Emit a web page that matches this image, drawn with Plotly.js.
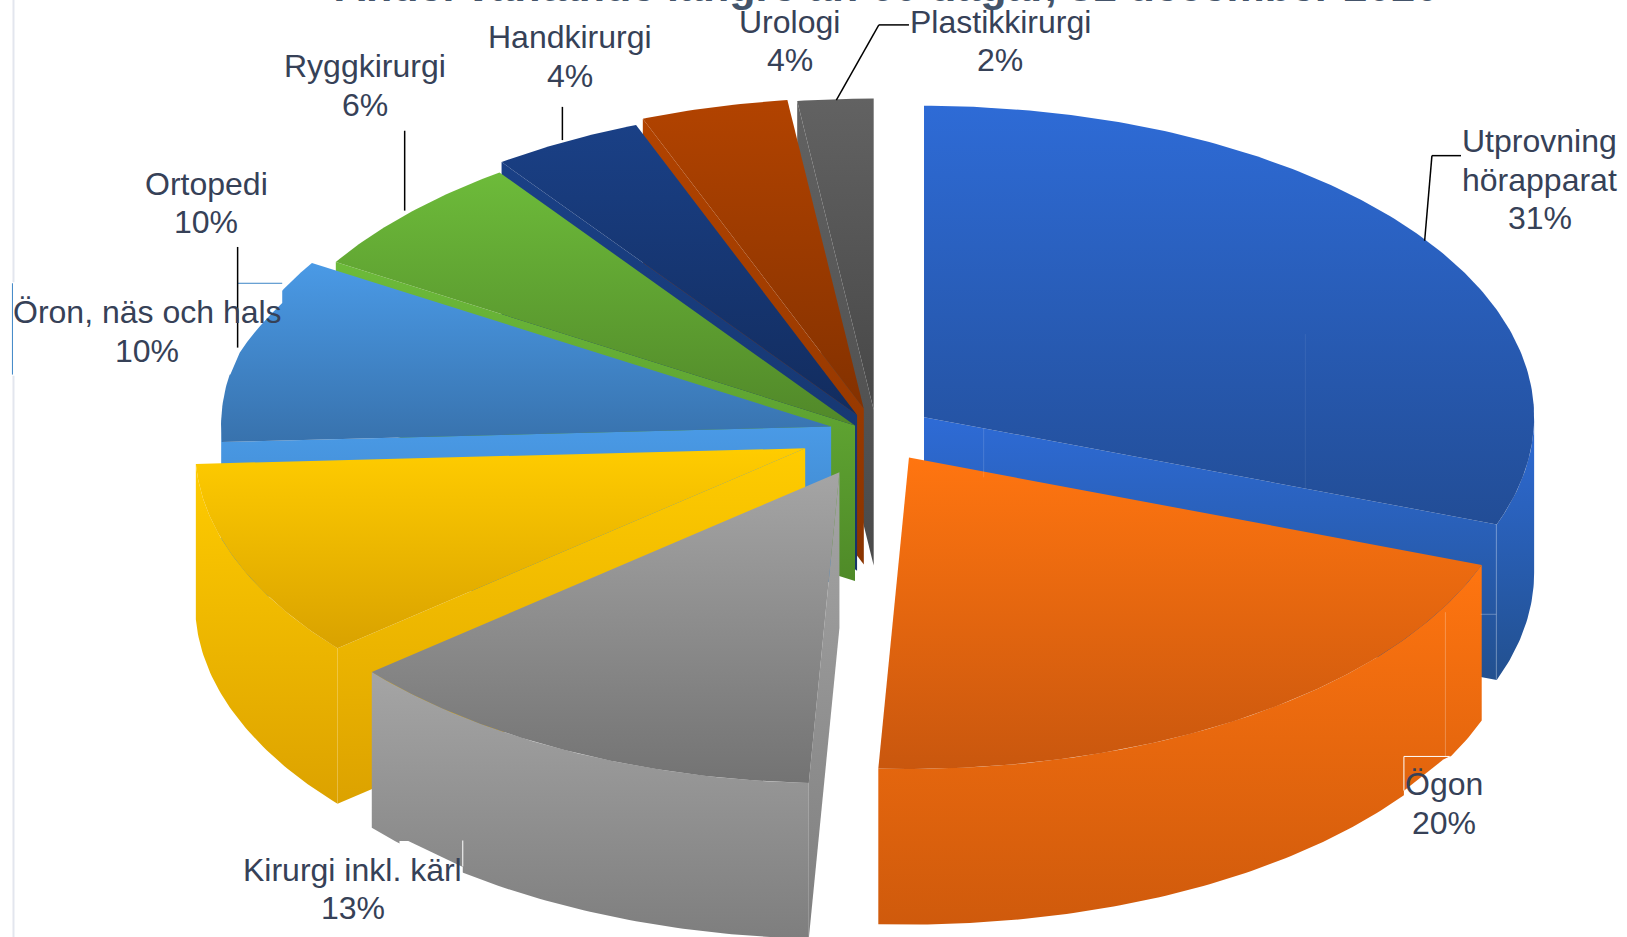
<!DOCTYPE html>
<html><head><meta charset="utf-8">
<script src="https://cdn.plot.ly/plotly-3.0.1.min.js"></script>
<style>html,body{margin:0;padding:0;background:#fff;overflow:hidden}#chart{width:1627px;height:937px}</style>
</head><body><div id="chart"></div>
<script>
// ---- data ----
const chartTitle = 'Andel väntande längre än 60 dagar, 31 december 2020';
const categories = ['Utprovning<br>hörapparat','Ögon','Kirurgi inkl. kärl','Öron, näs och hals','Ortopedi','Ryggkirurgi','Handkirurgi','Urologi','Plastikkirurgi'];
const shares = [30.6, 20.2, 13.1, 10.3, 9.6, 6.3, 4, 3.9, 2];

// ---- style: bright / dark end of each slice's gradient ----
const topBright = ['#2e6bd6','#ff7510','#a5a5a5','#ffcc00','#4a9ae6','#6dbb3a','#1a4086','#b24300','#626262'];
const topDark   = ['#224d96','#c9570e','#737373','#d9a200','#3872ad','#518829','#122c5e','#833100','#474747'];
const sideDark  = ['#22508f','#cf5a0c','#7e7e7e','#dca200','#3a7fc0','#4f8a28','#153468','#8a3400','#4a4a4a'];

// ---- 3D pie projection (units: 1568x903 reference frame) ----
const rx = 588, ry = 300, depth = 150;
const apexX = [890.5, 876, 809, 776, 801, 824, 826, 832.5, 842];
const apexY = [402, 441, 455, 432, 411, 410, 400, 394, 395];
const paintOrder = [8, 7, 6, 5, 4, 3, 0, 1, 2];
const labelX = [1484, 1392, 340, 142, 199, 352, 549, 761, 964];
const labelY = [136, 756, 838, 301, 177, 64, 36, 21, 21];
const lineStep = 37;

const total = shares.reduce((a, b) => a + b, 0);
const startDeg = [], endDeg = [];
shares.reduce((acc, v, i) => { startDeg[i] = acc / total * 360; endDeg[i] = (acc + v) / total * 360; return acc + v; }, 0);

function rim(i, deg) {
  const t = deg * Math.PI / 180;
  return [apexX[i] + rx * Math.sin(t), apexY[i] - ry * Math.cos(t)];
}
function arc(i, a, b) {
  const n = Math.max(2, Math.ceil(Math.abs(b - a) * 1.5)), pts = [];
  for (let k = 0; k <= n; k++) pts.push(rim(i, a + (b - a) * k / n));
  return pts;
}
function face(pts, bright, dark, name) {
  const xs = pts.map(p => p[0]), ys = pts.map(p => p[1]);
  xs.push(xs[0]); ys.push(ys[0]);
  return {
    type: 'scatter', mode: 'lines', x: xs, y: ys, name: name, fill: 'toself',
    line: { width: 0, color: bright }, hoverinfo: 'skip', showlegend: false,
    fillgradient: { type: 'vertical', colorscale: [[0, dark], [1, bright]],
      start: Math.max(...ys), stop: Math.min(...ys) }
  };
}
const down = p => [p[0], p[1] + depth];
const traces = [];
paintOrder.forEach(i => {
  const s = startDeg[i], e = endDeg[i], apex = [apexX[i], apexY[i]], nm = categories[i].replace('<br>', ' ');
  if (s > 180 && s < 360) { const r = rim(i, s); traces.push(face([apex, r, down(r), down(apex)], topBright[i], sideDark[i], nm)); }
  if (e > 0 && e < 180) { const r = rim(i, e); traces.push(face([apex, r, down(r), down(apex)], topBright[i], sideDark[i], nm)); }
  const a = Math.max(s, 90), b = Math.min(e, 270);
  if (b > a) { const top = arc(i, a, b); traces.push(face(top.concat(top.slice().reverse().map(down)), topBright[i], sideDark[i], nm)); }
  traces.push(face([apex].concat(arc(i, s, e)), topBright[i], topDark[i], nm));
});

// ---- text: every line is placed on its own so the spacing matches ----
const ink = '#364157';
const font = { family: 'Liberation Sans, Arial, sans-serif', size: 32, color: ink };
const annotations = [{ x: 0.545, y: 1, xref: 'paper', yref: 'paper', xanchor: 'center', yanchor: 'bottom', yshift: -12, showarrow: false,
  text: '<b>' + chartTitle + '</b>', font: { family: 'Liberation Sans, Arial, sans-serif', size: 43, color: '#44546a' } }];
categories.forEach((c, i) => {
  const lines = c.split('<br>').concat(Math.round(shares[i] / total * 100) + '%');
  lines.forEach((line, k) => annotations.push({
    x: labelX[i], y: labelY[i] + k * lineStep, xref: 'x', yref: 'y', xanchor: 'center', yanchor: 'middle',
    showarrow: false, text: line, font
  }));
});

// ---- leader lines, label boxes and seams ----
const seg = (x0, y0, x1, y1, color, width) => ({ type: 'line', x0, y0, x1, y1, xref: 'x', yref: 'y', line: { color, width } });
const blob = path => ({ type: 'path', path, xref: 'x', yref: 'y', fillcolor: '#ffffff', line: { width: 0 } });
const shapes = [
  seg(948, 413, 948, 460, 'rgba(255,255,255,0.14)', 1),
  seg(1258, 322, 1258, 470, 'rgba(255,255,255,0.08)', 1),
  seg(1442, 505, 1442, 655, 'rgba(255,255,255,0.2)', 1),
  seg(1427, 592, 1442, 592, 'rgba(255,255,255,0.3)', 1),
  seg(1393, 590, 1393, 729, 'rgba(255,255,255,0.25)', 1),
  blob('M12,273 L272,273 L272,292 Q245,318 231,340 L222,361 L12,361 Z'),
  blob('M1353,762 L1391,732 L1397,729 L1410,729 L1410,800 L1353,800 Z'),
  blob('M385,810.5 L393.5,810.5 L446,835.5 L446,870 L385,870 Z'),
  seg(1353, 729, 1397, 729, '#ffffff', 1),
  seg(1353, 729, 1353, 762, '#ffffff', 1),
  seg(446, 810, 446, 835, '#ffffff', 1),
  seg(13, 0, 13, 272, '#e3e6ee', 2),
  seg(13, 362, 13, 903, '#e3e6ee', 2),
  seg(12, 273, 12, 361, '#3d85c6', 1),
  seg(229, 273, 272, 273, '#3d85c6', 1),
  seg(806, 96.5, 847, 24, '#000000', 1.5),
  seg(847, 24, 876, 24, '#000000', 1.5),
  seg(1373, 232, 1380, 150, '#000000', 1.5),
  seg(1380, 150, 1408, 150, '#000000', 1.5),
  seg(390, 126, 390, 203, '#000000', 1.5),
  seg(542, 103, 542, 135, '#000000', 1.5),
  seg(229, 238, 229, 335, '#000000', 1.5)
];

const hidden = { visible: false, fixedrange: true };
Plotly.newPlot('chart', traces, {
  width: 1627, height: 937, margin: { l: 0, r: 0, t: 0, b: 0, pad: 0 },
  paper_bgcolor: '#ffffff', plot_bgcolor: '#ffffff', showlegend: false, hovermode: false,
  xaxis: Object.assign({ range: [0, 1568] }, hidden),
  yaxis: Object.assign({ range: [903, 0] }, hidden),
  annotations, shapes
}, { displayModeBar: false, staticPlot: true });
</script></body></html>
